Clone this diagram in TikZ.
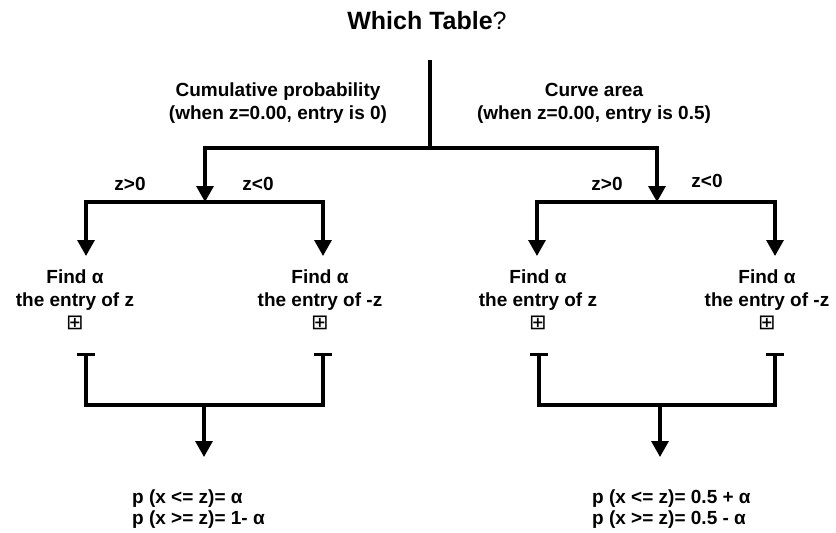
\documentclass[tikz,border=0pt]{standalone}
\usepackage{fontspec}
\setmainfont{Liberation Sans}
\newfontfamily\symfont{DejaVu Sans}
\usetikzlibrary{arrows.meta,positioning}
\newcommand{\plusbox}{{\symfont\mdseries\fontsize{21}{15}\selectfont ⊞}}

\begin{document}
\begin{tikzpicture}[x=1pt, y=-1pt,
  lbl/.style={font=\bfseries\fontsize{19}{23}\selectfont, align=center, inner sep=0pt},
  res/.style={font=\bfseries\fontsize{19}{21}\selectfont, align=left, inner sep=0pt, anchor=west},
  wire/.style={line width=3.2pt, line cap=rect},
  arr/.style={line width=3.2pt, -{Triangle[width=17pt,length=16pt]}},
  tee/.style={line width=3.2pt, {Bar[width=18pt]}-{Bar[width=18pt]}}
]
\useasboundingbox (0,0) rectangle (836,533);
\node[font=\bfseries\fontsize{25}{30}\selectfont] (title) at (427,21) {Which Table\mdseries ?};
% the two tables
\coordinate (root) at (430,62);
\coordinate (fork) at (430,148);
\coordinate (cumfork) at (205,148);
\coordinate (areafork) at (657,148);
\node[lbl] (cum) at (278,103) {Cumulative probability\\(when z=0.00, entry is 0)};
\node[lbl] (area) at (594,103) {Curve area\\(when z=0.00, entry is 0.5)};
\draw[wire] (root) -- (fork);
\draw[wire] (cumfork) -- (areafork);
% sign of z
\coordinate (cumsplit) at (205,202);
\coordinate (areasplit) at (657,202);
\coordinate (cumL) at (86,202);
\coordinate (cumR) at (323,202);
\coordinate (areaL) at (537,202);
\coordinate (areaR) at (775,202);
\draw[arr] (cumfork) -- (cumsplit);
\draw[arr] (areafork) -- (areasplit);
\draw[wire] (cumL) -- (cumR);
\draw[wire] (areaL) -- (areaR);
\node[lbl] (cumpos) at (130,184) {z>0};
\node[lbl] (cumneg) at (258,184) {z<0};
\node[lbl] (areapos) at (607,184) {z>0};
\node[lbl] (areaneg) at (707,181) {z<0};
\draw[arr] (cumL) -- ++(0,54);
\draw[arr] (cumR) -- ++(0,54);
\draw[arr] (areaL) -- ++(0,54);
\draw[arr] (areaR) -- ++(0,54);
% lookups
\node[lbl] (findcumL) at (75,300) {Find α\\the entry of z\\\plusbox};
\node[lbl] (findcumR) at (320,300) {Find α\\the entry of -z\\\plusbox};
\node[lbl] (findareaL) at (538,300) {Find α\\the entry of z\\\plusbox};
\node[lbl] (findareaR) at (767,300) {Find α\\the entry of -z\\\plusbox};
% merge
\draw[tee] (86,353) -- (86,405) -- (323,405) -- (323,353);
\draw[tee] (539,353) -- (539,405) -- (775,405) -- (775,353);
\coordinate (cummerge) at (204,405);
\coordinate (areamerge) at (660,405);
\draw[arr] (cummerge) -- ++(0,52);
\draw[arr] (areamerge) -- ++(0,52);
\node[res] (rescum) at (132,509) {p (x <= z)= α\\p (x >= z)= 1- α};
\node[res] (resarea) at (592,509) {p (x <= z)= 0.5 + α\\p (x >= z)= 0.5 - α};
\end{tikzpicture}
\end{document}
